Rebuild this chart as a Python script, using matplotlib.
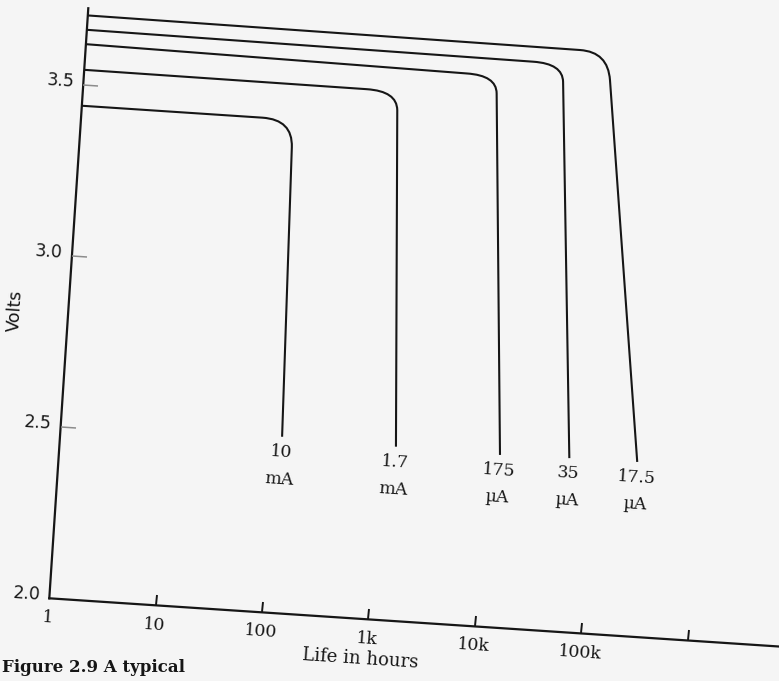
import numpy as np
import matplotlib.pyplot as plt
from matplotlib.path import Path
from matplotlib.patches import PathPatch
from matplotlib.markers import MarkerStyle, TICKUP, TICKRIGHT
from matplotlib.transforms import Affine2D

# cell voltage vs life
# points per curve: start, end of flat part, knee corner, start of drop, end of drop
hours_10mA = [1, 50, 96, 98, 120]
volts_10mA = [3.44, 3.44, 3.44, 3.36, 2.515]
hours_1_7mA = [1, 454, 873, 902, 1416]
volts_1_7mA = [3.545, 3.543, 3.543, 3.488, 2.508]
hours_175uA = [1, 3830, 7280, 7500, 13490]
volts_175uA = [3.62, 3.608, 3.608, 3.556, 2.504]
hours_35uA = [1, 15780, 29920, 30900, 60400]
volts_35uA = [3.662, 3.655, 3.655, 3.602, 2.508]
hours_17_5uA = [1, 42560, 78000, 84700, 262400]
volts_17_5uA = [3.704, 3.698, 3.698, 3.616, 2.51]

all_hours = [hours_10mA, hours_1_7mA, hours_175uA, hours_35uA, hours_17_5uA]
all_volts = [volts_10mA, volts_1_7mA, volts_175uA, volts_35uA, volts_17_5uA]
curve_numbers = ['10', '1.7', '175', '35', '17.5']
curve_units = ['mA', 'mA', 'µA', 'µA', 'µA']

x_ticks = [10, 100, 1e3, 1e4, 1e5, 1e6]
x_labels_at = [1, 10, 100, 1e3, 1e4, 1e5]
x_labels = ['1', '10', '100', '1k', '10k', '100k']
y_ticks = [2.5, 3.0, 3.5]
y_labels_at = [2.0, 2.5, 3.0, 3.5]
y_labels = ['2.0', '2.5', '3.0', '3.5']

W, H = 779, 681
ox, oy = 49.3, H - 598.3   # axes corner in pixels
decade = 106.6
volt = 342.8
tilt = -3.78   # page was scanned a bit crooked
ink = '#161616'
serif = 'DejaVu Serif'

fig = plt.figure(figsize=(W / 100, H / 100), dpi=100, facecolor='#f5f5f5')
ax = fig.add_axes([ox / W, oy / H, 7 * decade / W, 1.75 * volt / H])
ax.set_xscale('log')
ax.set_xlim(1, 1e7)
ax.set_ylim(2.0, 3.75)
ax.axis('off')

tr = ax.transData + Affine2D().rotate_deg_around(ox, oy, tilt)
a = np.deg2rad(tilt)


def shift(along, up):
    # offset in the tilted frame -> screen pixels
    return (along * np.cos(a) - up * np.sin(a), along * np.sin(a) + up * np.cos(a))


# axes
ax.plot([1, 1], [2.0, 3.725], color=ink, lw=1.6, transform=tr, clip_on=False)
ax.plot([1, 1e7], [2.0, 2.0], color=ink, lw=1.6, transform=tr, clip_on=False)

tick_up = MarkerStyle(TICKUP, transform=Affine2D().rotate_deg(tilt))
tick_right = MarkerStyle(TICKRIGHT, transform=Affine2D().rotate_deg(tilt))
ax.plot(x_ticks, [2.0] * len(x_ticks), ls='none', marker=tick_up, ms=7.5, mew=1.4,
        color=ink, transform=tr, clip_on=False)
ax.plot([1] * len(y_ticks), y_ticks, ls='none', marker=tick_right, ms=11, mew=1.1,
        color='#8c8c8c', transform=tr, clip_on=False)

for x, lab in zip(x_labels_at, x_labels):
    ax.annotate(lab, (x, 2.0), xycoords=tr, xytext=shift(0, -19.5), textcoords='offset pixels',
                ha='center', va='center', rotation=tilt, rotation_mode='anchor',
                fontsize=12.5, family=serif, color=ink, annotation_clip=False)
for y, lab in zip(y_labels_at, y_labels):
    ax.annotate(lab, (1, y), xycoords=tr, xytext=shift(-23, 3), textcoords='offset pixels',
                ha='center', va='center', rotation=tilt, rotation_mode='anchor',
                fontsize=12.5, family='DejaVu Sans', color=ink, annotation_clip=False)

ax.annotate('Volts', (1, 2.83), xycoords=tr, xytext=shift(-53, 0), textcoords='offset pixels',
            ha='center', va='center', rotation=90 + tilt, rotation_mode='anchor',
            fontsize=12.5, family='DejaVu Sans', color=ink, annotation_clip=False)
ax.annotate('Life in hours', (880, 2.0), xycoords=tr, xytext=shift(0, -40), textcoords='offset pixels',
            ha='center', va='center', rotation=tilt, rotation_mode='anchor',
            fontsize=13, family=serif, color=ink, annotation_clip=False)

# discharge curves with rounded knee
codes = [Path.MOVETO, Path.LINETO, Path.CURVE3, Path.CURVE3, Path.LINETO]
for hrs, vts, num, unit in zip(all_hours, all_volts, curve_numbers, curve_units):
    verts = np.column_stack([hrs, vts])
    ax.add_patch(PathPatch(Path(verts, codes), fill=False, ec=ink, lw=1.5,
                           transform=tr, clip_on=False))
    ax.annotate(num, (hrs[-1], vts[-1]), xycoords=tr, xytext=shift(0, -15.5),
                textcoords='offset pixels', ha='center', va='center', rotation=tilt,
                rotation_mode='anchor', fontsize=12.5, family=serif, color=ink,
                annotation_clip=False)
    ax.annotate(unit, (hrs[-1], vts[-1]), xycoords=tr, xytext=shift(0, -42.5),
                textcoords='offset pixels', ha='center', va='center', rotation=tilt,
                rotation_mode='anchor', fontsize=12.5, family=serif, color=ink,
                annotation_clip=False)

# caption at the foot of the page
fig.text(2 / W, 5 / H, 'Figure 2.9 A typical', ha='left', va='bottom',
         fontsize=12, fontweight='bold', family=serif, color=ink)

fig.savefig('out.png', dpi=100, facecolor=fig.get_facecolor())
